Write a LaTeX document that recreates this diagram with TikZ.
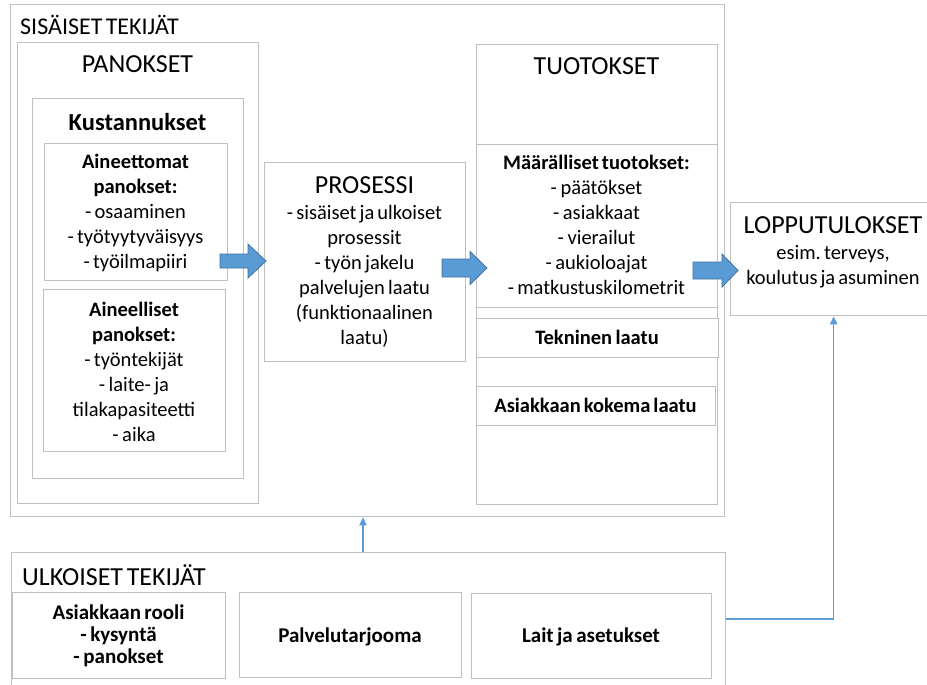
\documentclass[tikz,border=0pt]{standalone}
\usepackage{fontspec}
\setmainfont{Carlito}
\frenchspacing
\usetikzlibrary{arrows.meta}
\definecolor{frame}{HTML}{BFBFBF}
\definecolor{flow}{HTML}{5B9BD5}
\definecolor{flowedge}{HTML}{41719C}

% block arrow: start point, shaft length, shaft half width, head half width, head length
\newcommand\blockarrow[5]{%
  \filldraw[flowarrow] (#1) ++(0,-#3) -- ++(#2,0) -- ++(0,{#3-#4})
    -- ++(#5,#4) -- ++(-#5,#4) -- ++(0,{#3-#4}) -- ++(-#2,0) -- cycle;}

\begin{document}
\begin{tikzpicture}[x=1pt,y=-1pt,
  every node/.append style={execute at begin node={\spaceskip=0.14em plus 0.02em\relax}},
  box/.style={draw=frame, line width=1.4pt, inner sep=0pt, anchor=north west, fill=white},
  title/.style={font=\fontsize{26}{31}\selectfont, inner sep=0pt, anchor=base},
  body/.style={font=\fontsize{20.5}{25}\selectfont, inner sep=0pt, anchor=base,
    align=center, text width=#1},
  body/.default=230pt,
  lower/.style={font=\fontsize{21}{22}\selectfont\bfseries, inner sep=0pt, anchor=base,
    align=center, text width=#1},
  lower/.default=200pt,
  flowarrow/.style={fill=flow, draw=flowedge, line width=0.8pt},
  link/.style={draw=flow, line width=1.3pt, -{Triangle[length=8pt,width=7.5pt]}}]

\useasboundingbox (0,0) rectangle (927,685);
\clip (0,0) rectangle (927,685);

% internal factors
\node[box, minimum width=714, minimum height=512] (sis) at (10,4) {};
\node[title, anchor=base west, font=\fontsize{24}{29}\selectfont] (sisT) at (20,35) {SISÄISET TEKIJÄT};

% inputs
\node[box, minimum width=241, minimum height=461] (pan) at (17,42) {};
\node[title] (panT) at (137.5,73) {PANOKSET};
\node[box, minimum width=211, minimum height=380] (kus) at (32,98) {};
\node[title, font=\fontsize{24.5}{29}\selectfont\bfseries] (kusT) at (137.5,130) {Kustannukset};
\node[box, minimum width=183, minimum height=137] (ain1) at (44,143) {};
\node[body=180pt] (ain1T) at (135.5,168.5) {\textbf{Aineettomat}\\\textbf{panokset:}\\- osaaminen\\- työtyytyväisyys\\- työilmapiiri};
\node[box, minimum width=182, minimum height=162] (ain2) at (43,289) {};
\node[body=180pt] (ain2T) at (134,316) {\textbf{Aineelliset}\\\textbf{panokset:}\\- työntekijät\\- laite- ja\\tilakapasiteetti\\- aika};

% process
\node[box, minimum width=201, minimum height=199] (pro) at (264,162) {};
\node[title] (proT) at (364.5,193) {PROSESSI};
\node[body=200pt] (proB) at (364.5,219) {- sisäiset ja ulkoiset\\prosessit\\- työn jakelu\\palvelujen laatu\\(funktionaalinen\\laatu)};

% outputs
\node[box, minimum width=241, minimum height=460] (tuo) at (476,44) {};
\node[title] (tuoT) at (596.5,75) {TUOTOKSET};
\node[box, minimum width=241, minimum height=163] (maa) at (476,144) {};
\node[body] (maaT) at (596.5,169) {\textbf{Määrälliset tuotokset:}\\- päätökset\\- asiakkaat\\- vierailut\\- aukioloajat\\- matkustuskilometrit};
\node[box, minimum width=242, minimum height=39] (tek) at (476,318) {};
\node[body, font=\fontsize{20.5}{25}\selectfont\bfseries] (tekT) at (597,344) {Tekninen laatu};
\node[box, minimum width=239, minimum height=39] (koke) at (476,386) {};
\node[body, font=\fontsize{20.5}{25}\selectfont\bfseries] (kokeT) at (595.5,412) {Asiakkaan kokema laatu};

% outcomes
\node[box, minimum width=206, minimum height=113] (lop) at (730,202) {};
\node[title] (lopT) at (833,233) {LOPPUTULOKSET};
\node[body=200pt] (lopB) at (833,259) {esim. terveys,\\koulutus ja asuminen};

% external factors
\node[box, minimum width=714, minimum height=150] (ulk) at (11,552) {};
\node[title, anchor=base west] (ulkT) at (22,585) {ULKOISET TEKIJÄT};
\node[box, minimum width=213, minimum height=86] (rooli) at (12,592) {};
\node[lower] (rooliT) at (118.5,619) {Asiakkaan rooli\\- kysyntä\\- panokset};
\node[box, minimum width=222, minimum height=85] (tarj) at (239,592) {};
\node[lower] (tarjT) at (350,642) {Palvelutarjooma};
\node[box, minimum width=240, minimum height=85] (lait) at (471,593) {};
\node[lower=230pt] (laitT) at (591,642) {Lait ja asetukset};

% flow arrows between the stages
\coordinate (aStart) at (220,261);
\coordinate (bStart) at (442,268);
\coordinate (cStart) at (693,270.5);
\blockarrow{aStart}{28}{7}{17}{18}
\blockarrow{bStart}{28}{9}{16.5}{17}
\blockarrow{cStart}{29}{8.5}{16.5}{16}

% links from the external factors
\coordinate (midUp) at (363,0);
\coordinate (sideY) at (0,619);
\draw[link] (ulk.north -| midUp) -- (sis.south -| midUp);
\draw[link] (ulk.east |- sideY) -| (lop.south);
\end{tikzpicture}
\end{document}
